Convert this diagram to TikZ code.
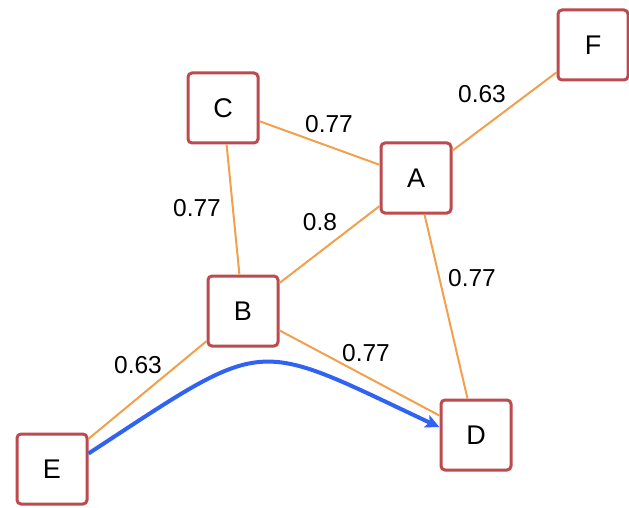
\documentclass[tikz,border=0pt]{standalone}
\usepackage{fontspec}
\setmainfont{Liberation Sans}
\usetikzlibrary{arrows.meta}
\definecolor{boxred}{HTML}{BC4A4F}
\definecolor{edgeorange}{HTML}{F2A04C}
\definecolor{pathblue}{HTML}{3163F2}
\tikzset{
  vbox/.style={draw=boxred, line width=3pt, fill=white, rounded corners=4pt,
    minimum width=70pt, minimum height=70pt, inner sep=0pt,
    font=\fontsize{27}{30}\selectfont},
  wedge/.style={draw=edgeorange, line width=2pt},
  wlabel/.style={font=\fontsize{24.5}{28}\selectfont, inner sep=0pt},
  route/.style={draw=pathblue, line width=4pt, -{Stealth[length=14pt,width=13pt,inset=3pt]}}
}
\begin{document}
\begin{tikzpicture}[x=1pt,y=-1pt]
\useasboundingbox (0,0) rectangle (629,508);
\node[vbox] (C) at (223,108) {C};
\node[vbox] (F) at (593,45) {F};
\node[vbox] (A) at (416,178) {A};
\node[vbox] (B) at (243,311) {B};
\node[vbox] (E) at (52,469) {E};
\node[vbox] (D) at (476,435) {D};
\draw[wedge] (C) -- (A);
\draw[wedge] (A) -- (F);
\draw[wedge] (C) -- (B);
\draw[wedge] (A) -- (B);
\draw[wedge] (A) -- (D);
\draw[wedge] (B) -- (D);
\draw[wedge] (E) -- (B);
\draw[route] (E.23) .. controls (270,335) and (250,338) .. (D.168);
\node[wlabel] (lCA) at (329,124) {0.77};
\node[wlabel] (lAF) at (482,94) {0.63};
\node[wlabel] (lCB) at (197,208) {0.77};
\node[wlabel] (lAB) at (320,222) {0.8};
\node[wlabel] (lAD) at (472,278) {0.77};
\node[wlabel] (lBD) at (366,353) {0.77};
\node[wlabel] (lEB) at (138,365) {0.63};
\end{tikzpicture}
\end{document}
